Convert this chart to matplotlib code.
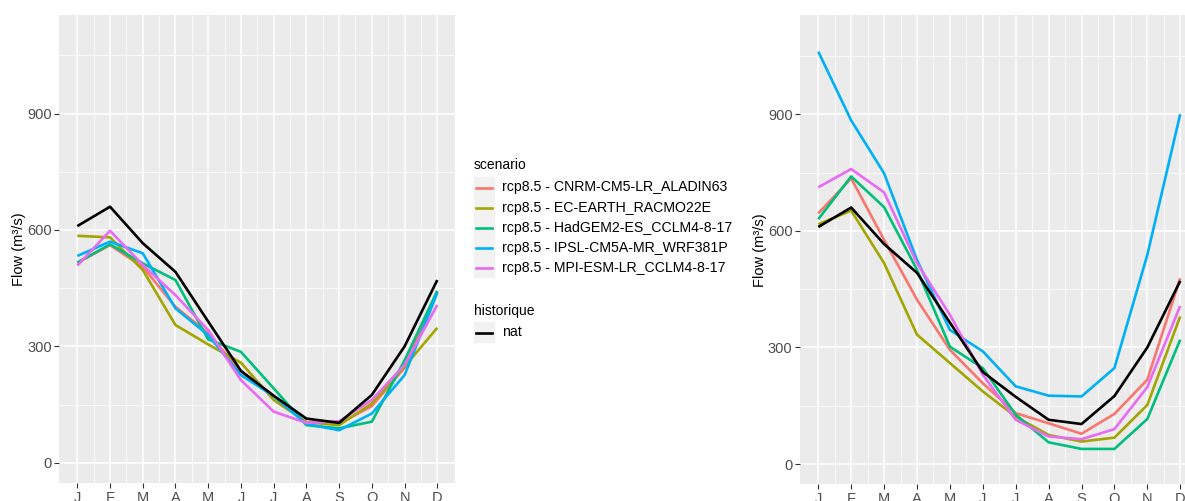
import matplotlib
matplotlib.use("Agg")
import matplotlib.pyplot as plt
from matplotlib.lines import Line2D
from matplotlib.patches import Rectangle
import numpy as np

plt.rcParams['font.family'] = ['Liberation Sans', 'DejaVu Sans']

months = np.arange(1, 13)
month_labels = ['J', 'F', 'M', 'A', 'M', 'J', 'J', 'A', 'S', 'O', 'N', 'D']

scenarios = ['rcp8.5 - CNRM-CM5-LR_ALADIN63',
             'rcp8.5 - EC-EARTH_RACMO22E',
             'rcp8.5 - HadGEM2-ES_CCLM4-8-17',
             'rcp8.5 - IPSL-CM5A-MR_WRF381P',
             'rcp8.5 - MPI-ESM-LR_CCLM4-8-17']
colors = ['#F8766D', '#A3A500', '#00BF7D', '#00B0F6', '#E76BF3']

# historical reference (same on both panels)
nat = [610, 660, 566, 492, 364, 237, 173, 114, 103, 175, 300, 471]

# left panel: first horizon
left_cnrm = [515, 561, 505, 402, 334, 235, 172, 104, 101, 146, 245, 442]
left_ec = [585, 581, 497, 355, 305, 258, 162, 105, 97, 153, 248, 348]
left_had = [516, 563, 514, 471, 318, 286, 192, 97, 89, 106, 264, 443]
left_ipsl = [533, 570, 540, 398, 329, 226, 172, 100, 84, 127, 226, 438]
left_mpi = [508, 598, 510, 432, 342, 213, 132, 103, 107, 162, 252, 407]

# right panel: second horizon
right_cnrm = [645, 735, 577, 423, 294, 208, 131, 105, 78, 129, 217, 478]
right_ec = [617, 652, 517, 333, 260, 187, 122, 75, 58, 68, 152, 380]
right_had = [630, 740, 661, 500, 302, 247, 127, 56, 39, 39, 116, 320]
right_ipsl = [1061, 884, 748, 525, 345, 290, 200, 176, 174, 247, 538, 900]
right_mpi = [712, 759, 699, 517, 384, 230, 114, 71, 64, 90, 198, 407]

left_series = [left_cnrm, left_ec, left_had, left_ipsl, left_mpi]
right_series = [right_cnrm, right_ec, right_had, right_ipsl, right_mpi]

W, H = 1185, 501
fig = plt.figure(figsize=(W / 100, H / 100), dpi=100)


def px_axes(x0, y0, x1, y1):
    return fig.add_axes([x0 / W, 1 - y1 / H, (x1 - x0) / W, (y1 - y0) / H])


def style_panel(ax):
    ax.set_facecolor('#EBEBEB')
    ax.set_xlim(0.45, 12.55)
    ax.set_ylim(-52, 1154)
    ax.set_xticks(months)
    ax.set_xticklabels(month_labels)
    ax.set_xticks(np.arange(1.5, 12, 1), minor=True)
    ax.set_yticks([0, 300, 600, 900])
    ax.set_yticks([150, 450, 750, 1050], minor=True)
    ax.grid(which='major', color='white', lw=1.1)
    ax.grid(which='minor', color='white', lw=0.55)
    ax.set_axisbelow(True)
    for s in ax.spines.values():
        s.set_visible(False)
    ax.tick_params(which='major', length=3.5, width=0.8, color='#333333',
                   labelcolor='#4D4D4D', labelsize=10.5, pad=2)
    ax.tick_params(which='minor', length=0)
    ax.set_ylabel('Flow (m³/s)', fontsize=10.5, color='black', va='center')
    ax.yaxis.set_label_coords(-0.101, 0.5)


axL = px_axes(59.3, 15, 455.3, 483)
axR = px_axes(800.2, 15.5, 1198.3, 484.3)

for ax, series in [(axL, left_series), (axR, right_series)]:
    style_panel(ax)
    for vals, c in zip(series, colors):
        ax.plot(months, vals, color=c, lw=1.9, solid_capstyle='butt')
    ax.plot(months, nat, color='black', lw=1.9, solid_capstyle='butt')

# legend (drawn in figure pixels)
def fx(x):
    return x / W


def fy(y):
    return 1 - y / H


fig.text(fx(474), fy(165), 'scenario', fontsize=10, va='center', ha='left')
fig.patches.append(Rectangle((fx(474), fy(277)), fx(20), (100) / H,
                             transform=fig.transFigure, color='#F2F2F2', zorder=0))
for i, (name, c) in enumerate(zip(scenarios, colors)):
    yc = 187.5 + i * 20.2
    fig.lines.append(Line2D([fx(476), fx(492.5)], [fy(yc), fy(yc)], color=c, lw=1.9,
                            transform=fig.transFigure))
    fig.text(fx(502), fy(yc), name, fontsize=10.2, va='center', ha='left')

fig.text(fx(474), fy(310.5), 'historique', fontsize=10, va='center', ha='left')
fig.patches.append(Rectangle((fx(474), fy(342)), fx(20), 20 / H,
                             transform=fig.transFigure, color='#F2F2F2', zorder=0))
fig.lines.append(Line2D([fx(476), fx(492.5)], [fy(332.5), fy(332.5)], color='black', lw=1.9,
                        transform=fig.transFigure))
fig.text(fx(502), fy(332.5), 'nat', fontsize=10.2, va='center', ha='left')

fig.savefig('out.png', dpi=100)
